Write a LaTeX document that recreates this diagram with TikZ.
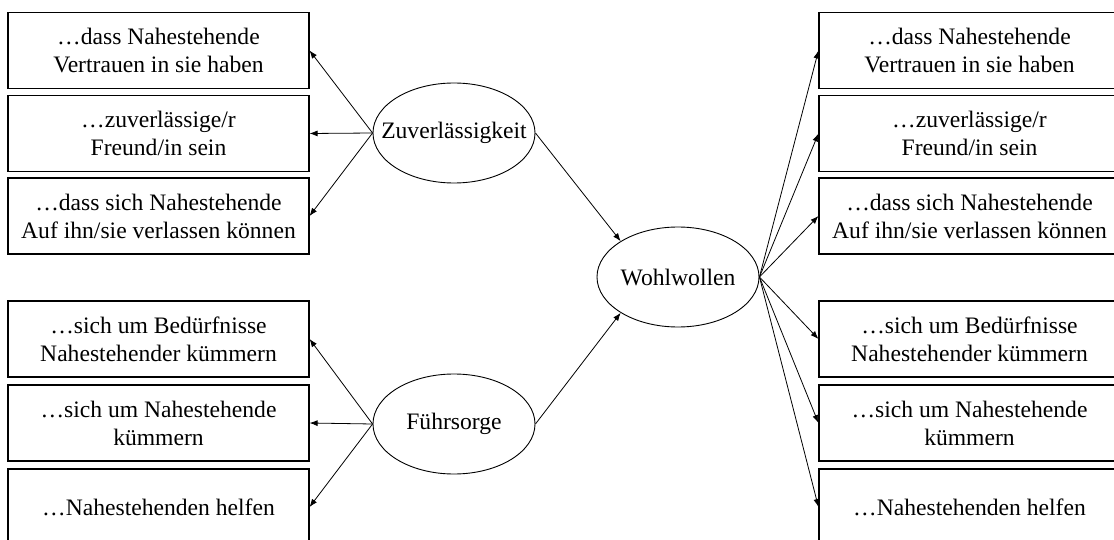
\documentclass[tikz,border=0pt]{standalone}
\usepackage{fontspec}
\setmainfont{Liberation Serif}
\usetikzlibrary{shapes.geometric,arrows.meta}
\begin{document}
\begin{tikzpicture}[x=1pt,y=-1pt,
  item/.style={draw,line width=1.1pt,minimum width=301pt,minimum height=76pt,
    inner sep=0pt,align=center,font=\fontsize{23.6}{28}\selectfont},
  factor/.style={draw,ellipse,line width=0.9pt,minimum width=162pt,minimum height=100pt,
    inner sep=0pt,font=\fontsize{23.6}{28}\selectfont},
  link/.style={line width=0.8pt,-{Latex[length=8pt,width=6pt]}}]
\useasboundingbox (0,0) rectangle (1114,540);
\clip (0,0) rectangle (1114,540);

% latent factors (label boxed at zero width so the ellipse keeps its set size)
\node[factor] (zuv)  at (454,133) {\makebox[0pt]{Zuverlässigkeit}};
\node[factor] (fuer) at (454,424) {\makebox[0pt]{Führsorge}};
\node[factor] (wohl) at (678,277) {\makebox[0pt]{Wohlwollen}};

% indicators, left column
\node[item] (l1) at (158.5,50.5) {…dass Nahestehende\\Vertrauen in sie haben};
\node[item] (l2) at (158.5,133.5) {…zuverlässige/r\\Freund/in sein};
\node[item] (l3) at (158.5,216) {…dass sich Nahestehende\\Auf ihn/sie verlassen können};
\node[item] (l4) at (158.5,339) {…sich um Bedürfnisse\\Nahestehender kümmern};
\node[item] (l5) at (158.5,423) {…sich um Nahestehende\\kümmern};
\node[item] (l6) at (158.5,507) {…Nahestehenden helfen};

% indicators, right column
\node[item] (r1) at (969.5,50.5) {…dass Nahestehende\\Vertrauen in sie haben};
\node[item] (r2) at (969.5,133.5) {…zuverlässige/r\\Freund/in sein};
\node[item] (r3) at (969.5,216) {…dass sich Nahestehende\\Auf ihn/sie verlassen können};
\node[item] (r4) at (969.5,339) {…sich um Bedürfnisse\\Nahestehender kümmern};
\node[item] (r5) at (969.5,423) {…sich um Nahestehende\\kümmern};
\node[item] (r6) at (969.5,507) {…Nahestehenden helfen};

% loadings
\foreach \t in {l1,l2,l3} \draw[link] (zuv.west) -- (\t.east);
\foreach \t in {l4,l5,l6} \draw[link] (fuer.west) -- (\t.east);
\foreach \t in {r1,r2,r3,r4,r5,r6} \draw[link] (wohl.east) -- (\t.west);

% higher-order paths
\draw[link] (zuv.east) -- (wohl.148);
\draw[link] (fuer.east) -- (wohl.212);
\end{tikzpicture}
\end{document}
